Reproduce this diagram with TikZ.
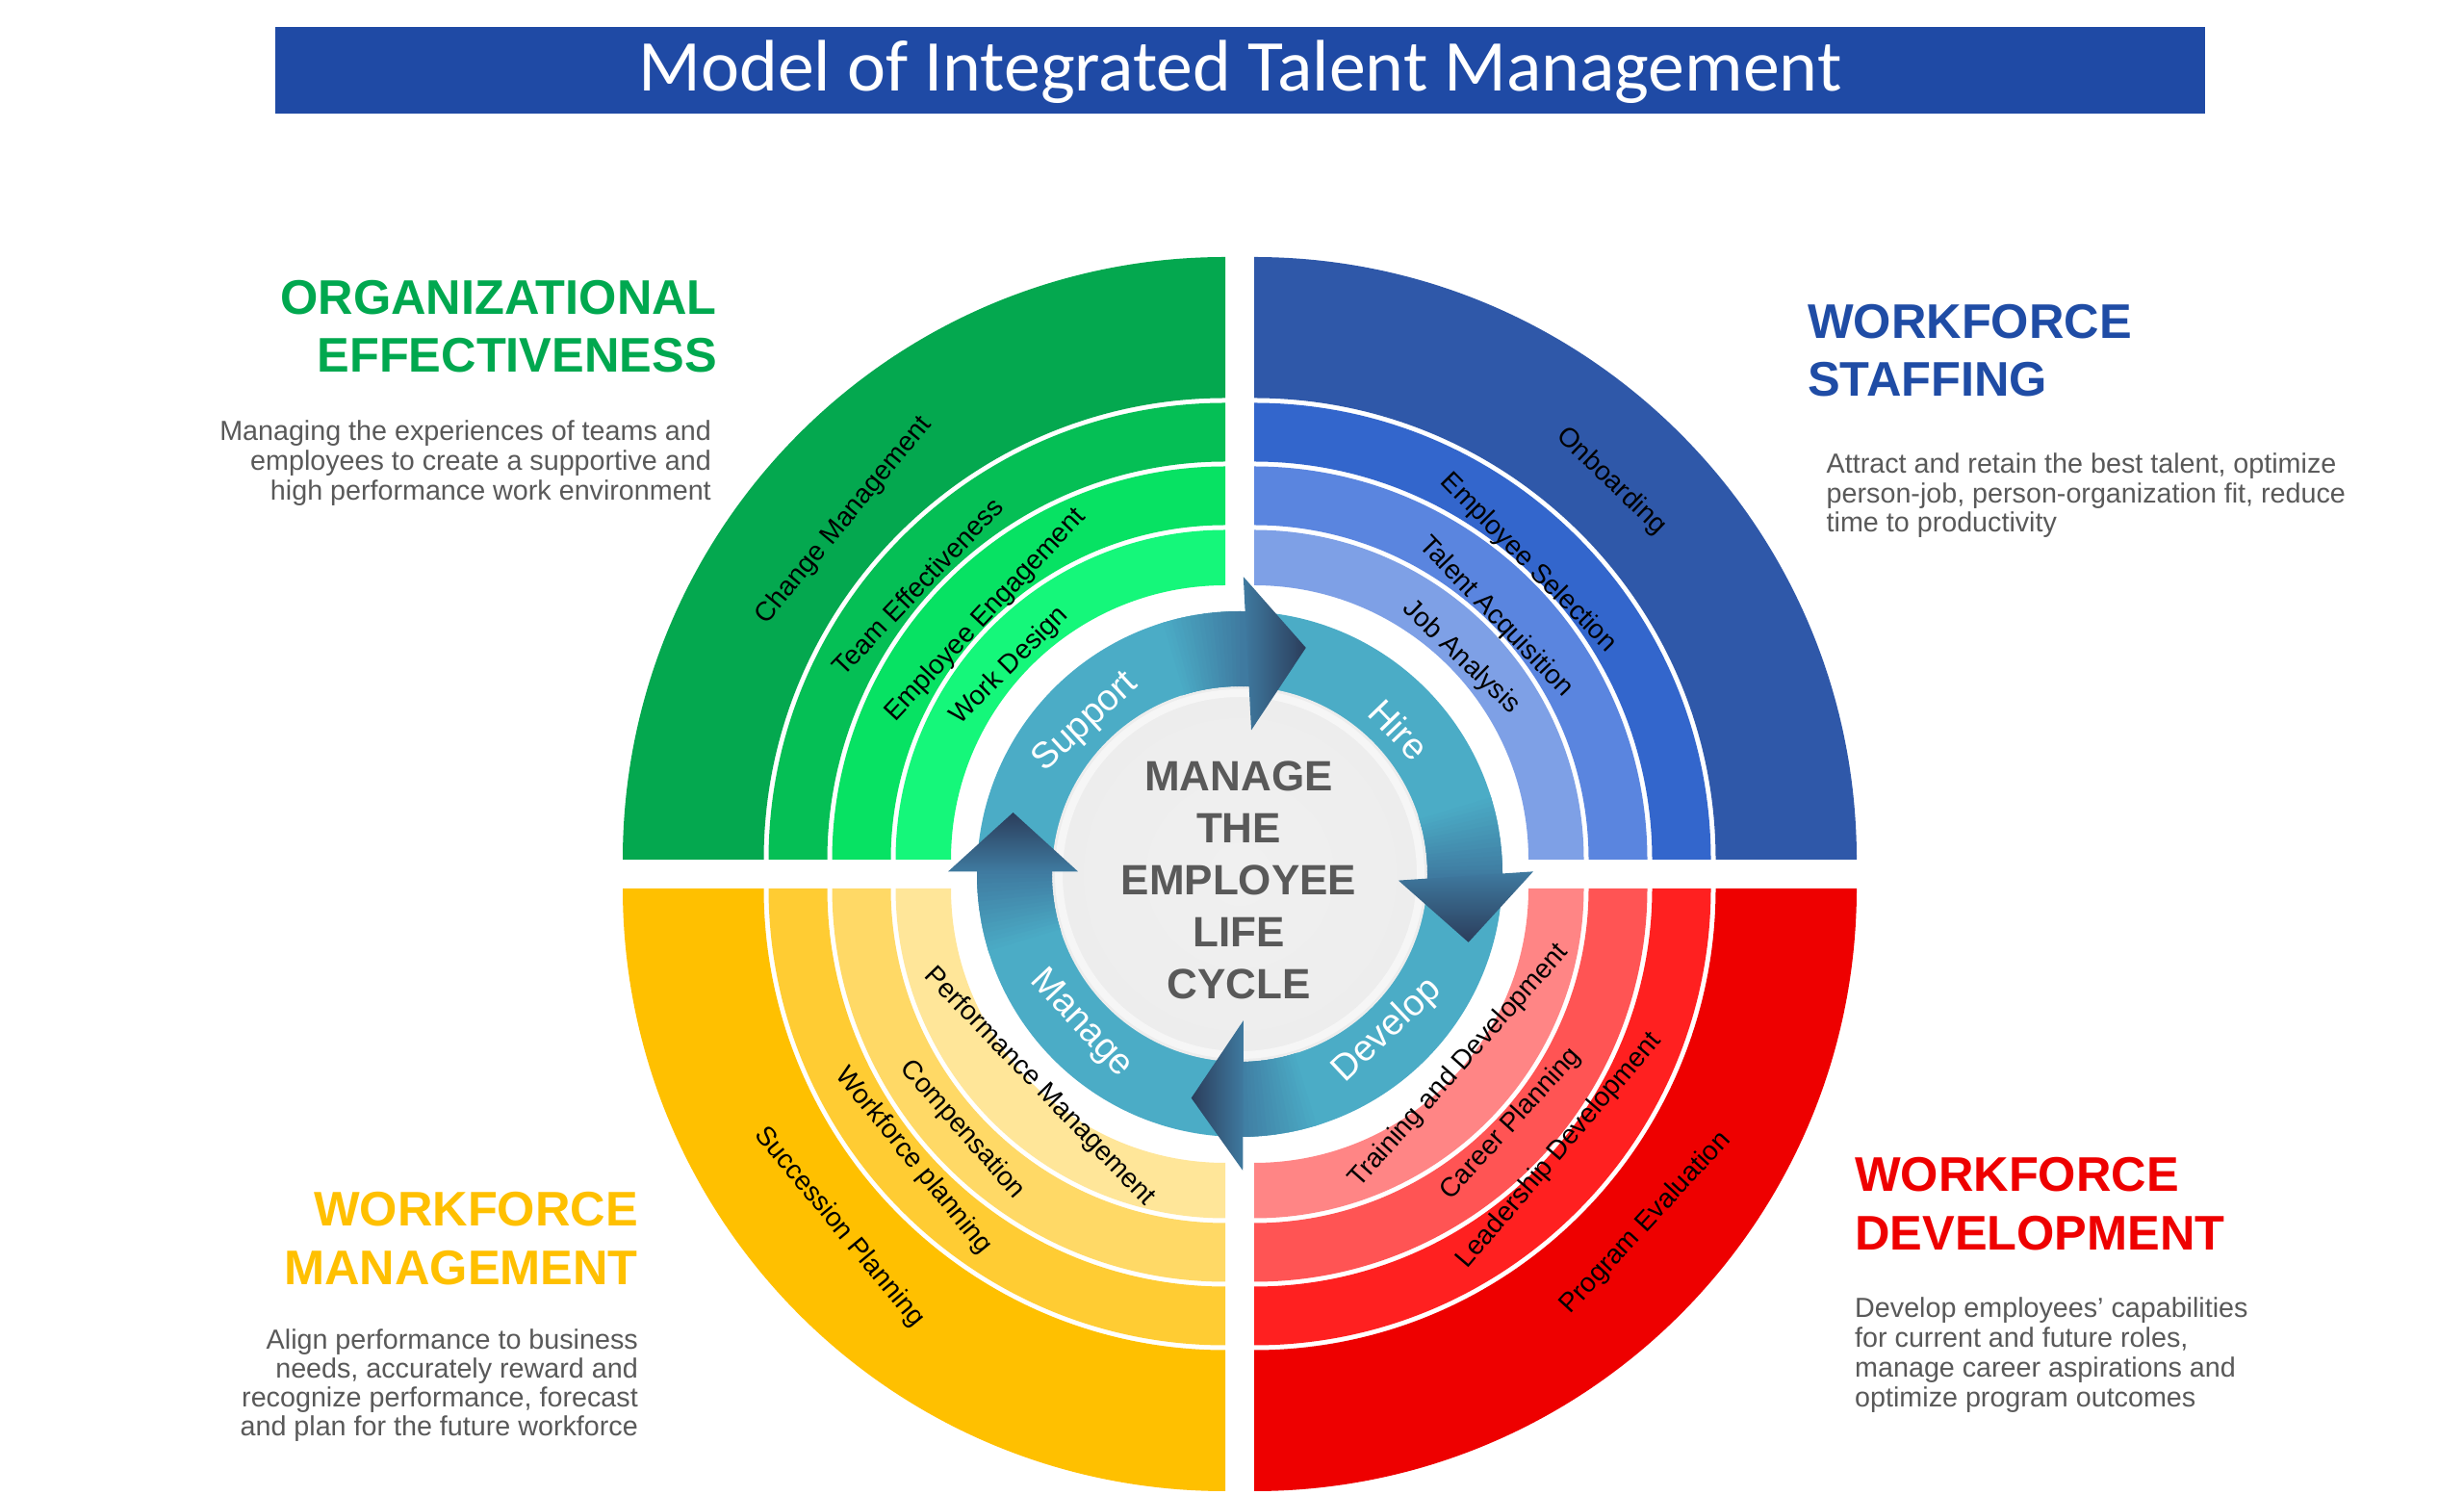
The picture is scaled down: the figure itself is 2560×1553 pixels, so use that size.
\documentclass[tikz,border=0pt]{standalone}
\usepackage{fontspec}
\setmainfont{Liberation Sans}
\newfontfamily\titlefont{Carlito}
\usetikzlibrary{calc}
\definecolor{titleblue}{HTML}{1F4AA5}
\definecolor{gA}{HTML}{04A84F}\definecolor{gB}{HTML}{05BF55}\definecolor{gC}{HTML}{07E263}\definecolor{gD}{HTML}{15F77A}
\definecolor{bA}{HTML}{2F58A9}\definecolor{bB}{HTML}{3366CC}\definecolor{bC}{HTML}{5A85DF}\definecolor{bD}{HTML}{7EA0E6}
\definecolor{rA}{HTML}{EE0000}\definecolor{rB}{HTML}{FF2020}\definecolor{rC}{HTML}{FF5454}\definecolor{rD}{HTML}{FF8585}
\definecolor{yA}{HTML}{FFC000}\definecolor{yB}{HTML}{FFCC33}\definecolor{yC}{HTML}{FFD966}\definecolor{yD}{HTML}{FFE699}
\definecolor{hgreen}{HTML}{00A84F}\definecolor{hblue}{HTML}{1F4CA5}\definecolor{hred}{HTML}{EE0000}\definecolor{hyellow}{HTML}{FFC000}
\definecolor{descgray}{HTML}{595959}
\definecolor{ringteal}{HTML}{4BACC6}
\definecolor{arrmid}{HTML}{3F7AA0}
\definecolor{arrdark}{HTML}{2B3D5B}
\definecolor{discin}{HTML}{F0F0F0}
\definecolor{discout}{HTML}{EDEDED}
\definecolor{discrim}{HTML}{F6F6F6}

\newcommand\qband[6]{%
  \fill[#6] ($(#1)+(#2:#5)$) arc[start angle=#2, end angle=#3, radius=#5]
    -- ($(#1)+(#3:#4)$) arc[start angle=#3, end angle=#2, radius=#4] -- cycle;}
\newcommand\arbody[1]{%
  \foreach \i in {0,...,20}{%
    \pgfmathsetmacro\aS{#1+18-\i}%
    \pgfmathsetmacro\aE{#1+18-\i-1.4}%
    \pgfmathtruncatemacro\p{min(100,round(100*\i/18))}%
    \fill[arrmid!\p!ringteal] ($(C)+(\aS:273)$) arc[start angle=\aS, end angle=\aE, radius=273]
      -- ($(C)+(\aE:195)$) arc[start angle=\aE, end angle=\aS, radius=195] -- cycle;}}

\tikzset{
  bandlab/.style={text=black, font=\fontsize{28}{32}\selectfont, inner sep=0pt},
  ringlab/.style={text=white, font=\fontsize{38}{42}\selectfont, inner sep=0pt},
  quadhead/.style={font=\bfseries\fontsize{50.5}{60}\selectfont, inner sep=0pt},
  desctext/.style={text=descgray, font=\fontsize{28.7}{31}\selectfont, inner sep=0pt},
  centertext/.style={text=descgray, font=\bfseries\fontsize{44}{54}\selectfont, inner sep=0pt, anchor=base},
}

\begin{document}
\begin{tikzpicture}[x=1pt,y=1pt]
\useasboundingbox (0,0) rectangle (2560,1553);
\fill[white] (0,0) rectangle (2560,1553);

% title
\node (titlebox) [fill=titleblue, minimum width=2005pt, minimum height=90pt, inner sep=0pt, anchor=south west] at (286,1435) {};
\node (title) [anchor=base, text=white, font=\titlefont\fontsize{75.8}{80}\selectfont, inner sep=0pt] at (1288.5,1458) {Model of Integrated Talent Management};

% centres
\coordinate (C) at (1288,645);
\coordinate (qG) at (1273,660);
\coordinate (qB) at (1303,660);
\coordinate (qR) at (1303,630);
\coordinate (qY) at (1273,630);

% green quadrant
\qband{qG}{90}{180}{479.5}{626}{gA}
\qband{qG}{90}{180}{413.5}{474.5}{gB}
\qband{qG}{90}{180}{347.5}{408.5}{gC}
\qband{qG}{90}{180}{285}{342.5}{gD}
% blue quadrant
\qband{qB}{0}{90}{479.5}{626}{bA}
\qband{qB}{0}{90}{413.5}{474.5}{bB}
\qband{qB}{0}{90}{347.5}{408.5}{bC}
\qband{qB}{0}{90}{285}{342.5}{bD}
% red quadrant
\qband{qR}{-90}{0}{479.5}{626}{rA}
\qband{qR}{-90}{0}{413.5}{474.5}{rB}
\qband{qR}{-90}{0}{347.5}{408.5}{rC}
\qband{qR}{-90}{0}{285}{342.5}{rD}
% yellow quadrant
\qband{qY}{180}{270}{479.5}{626}{yA}
\qband{qY}{180}{270}{413.5}{474.5}{yB}
\qband{qY}{180}{270}{347.5}{408.5}{yC}
\qband{qY}{180}{270}{285}{342.5}{yD}

% cycle ring
\fill[ringteal] (C) circle[radius=273];
\shade[inner color=discin, outer color=discout] (C) circle[radius=195];
\draw[discrim, line width=8pt] (C) circle[radius=188];

% arrow bodies
\arbody{90}
\arbody{0}
\arbody{-90}
\arbody{180}

% arrow heads
\shade[left color=arrmid, right color=arrdark]
  ($(C)+(89.3:309)$) -- ($(C)+(73.7:245)$) -- ($(C)+(85.4:150)$) -- cycle;
\shade[top color=arrmid, bottom color=arrdark]
  ($(C)+(0.5:305)$) -- ($(C)+(-16.6:248)$) -- ($(C)+(-2.3:165)$) -- cycle;
\shade[right color=arrmid, left color=arrdark]
  ($(C)+(-89.4:308)$) -- ($(C)+(-102.2:238)$) -- ($(C)+(-88.5:152)$) -- cycle;
\shade[bottom color=arrmid, top color=arrdark]
  ($(C)+(179.5:303)$) -- ($(C)+(164.8:244)$) -- ($(C)+(179.1:168)$) -- cycle;

% ring labels
\node (lsupport) [ringlab, rotate=42.7] at (1128,802.3) {Support};
\node (lhire) [ringlab, rotate=-46] at (1453.7,795.2) {Hire};
\node (ldevelop) [ringlab, rotate=43.3] at (1441.3,482.2) {Develop};
\node (lmanage) [ringlab, rotate=-46.8] at (1123,489.3) {Manage};

% centre text
\node (c1) [centertext] at (1287,731) {MANAGE};
\node (c2) [centertext] at (1287,677) {THE};
\node (c3) [centertext] at (1287,623) {EMPLOYEE};
\node (c4) [centertext] at (1287,569) {LIFE};
\node (c5) [centertext] at (1287,515) {CYCLE};

% band labels green
\node (lchange) [bandlab, rotate=50.5] at (877,1012) {Change Management};
\node (lteam) [bandlab, rotate=46.4] at (953,944) {Team Effectiveness};
\node (lengage) [bandlab, rotate=47] at (1024,914) {Employee Engagement};
\node (lwork) [bandlab, rotate=45] at (1049,861) {Work Design};
% blue
\node (lonb) [bandlab, rotate=-43.8] at (1674,1053) {Onboarding};
\node (lsel) [bandlab, rotate=-45.4] at (1588,968) {Employee Selection};
\node (lacq) [bandlab, rotate=-46.2] at (1554,912) {Talent Acquisition};
\node (ljob) [bandlab, rotate=-43.9] at (1518,870) {Job Analysis};
% red
\node (ltrain) [bandlab, rotate=48.4] at (1516,445.5) {Training and Development};
\node (lcareer) [bandlab, rotate=47.7] at (1570,385.4) {Career Planning};
\node (llead) [bandlab, rotate=49.6] at (1620,357.5) {Leadership Development};
\node (lprog) [bandlab, rotate=47.3] at (1710,282.4) {Program Evaluation};
% yellow
\node (lperf) [bandlab, rotate=-46] at (1080,424.1) {Performance Management};
\node (lcomp) [bandlab, rotate=-48.7] at (1000,379) {Compensation};
\node (lwfp) [bandlab, rotate=-50.8] at (949,346.8) {Workforce planning};
\node (lsucc) [bandlab, rotate=-50.5] at (872,278.2) {Succession Planning};

% headings and descriptions
\node (oeA) [quadhead, text=hgreen, anchor=base east] at (745,1226.3) {ORGANIZATIONAL};
\node (oeB) [quadhead, text=hgreen, anchor=base east] at (745,1166.3) {EFFECTIVENESS};
\node (oe1) [desctext, anchor=base east] at (739,1095) {Managing the experiences of teams and};
\node (oe2) [desctext, anchor=base east] at (739,1064) {employees to create a supportive and};
\node (oe3) [desctext, anchor=base east] at (739,1033) {high performance work environment};

\node (wsA) [quadhead, text=hblue, anchor=base west] at (1878,1201.3) {WORKFORCE};
\node (wsB) [quadhead, text=hblue, anchor=base west] at (1878,1141.3) {STAFFING};
\node (ws1) [desctext, anchor=base west] at (1897.5,1061) {Attract and retain the best talent, optimize};
\node (ws2) [desctext, anchor=base west] at (1897.5,1030.5) {person-job, person-organization fit, reduce};
\node (ws3) [desctext, anchor=base west] at (1897.5,1000) {time to productivity};

\node (wdA) [quadhead, text=hred, anchor=base west] at (1927,315.7) {WORKFORCE};
\node (wdB) [quadhead, text=hred, anchor=base west] at (1927,254.7) {DEVELOPMENT};
\node (wd1) [desctext, anchor=base west] at (1927,184.7) {Develop employees’ capabilities};
\node (wd2) [desctext, anchor=base west] at (1927,153.5) {for current and future roles,};
\node (wd3) [desctext, anchor=base west] at (1927,122.5) {manage career aspirations and};
\node (wd4) [desctext, anchor=base west] at (1927,91.5) {optimize program outcomes};

\node (wmA) [quadhead, text=hyellow, anchor=base east] at (663,279) {WORKFORCE};
\node (wmB) [quadhead, text=hyellow, anchor=base east] at (663,218) {MANAGEMENT};
\node (wm1) [desctext, anchor=base east] at (663,151.3) {Align performance to business};
\node (wm2) [desctext, anchor=base east] at (663,121.3) {needs, accurately reward and};
\node (wm3) [desctext, anchor=base east] at (663,91.3) {recognize performance, forecast};
\node (wm4) [desctext, anchor=base east] at (663,61.3) {and plan for the future workforce};
\end{tikzpicture}
\end{document}
